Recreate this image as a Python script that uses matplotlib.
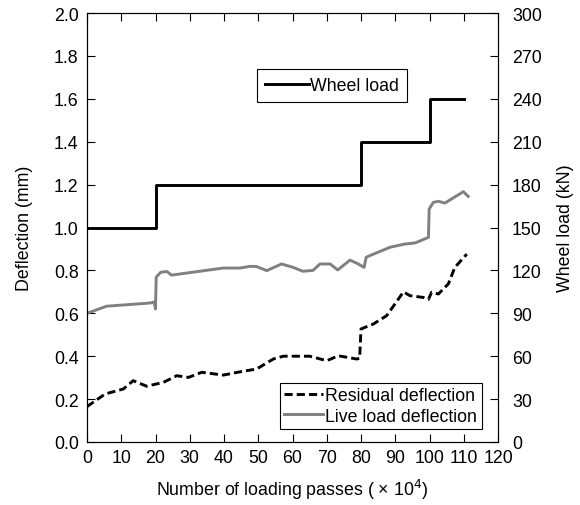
import matplotlib

matplotlib.use("Agg")

import matplotlib.pyplot as plt  # noqa: E402
from matplotlib.ticker import MultipleLocator, FormatStrFormatter  # noqa: E402

plt.rcParams.update({
    "font.family": ["Liberation Sans", "DejaVu Sans"],
    "font.size": 12.8,
    "xtick.direction": "in",
    "ytick.direction": "in",
    "axes.linewidth": 0.8,
})

# wheel load steps (kN), edges in 10^4 passes
load_x = [0, 20, 20, 80, 80, 100, 100, 110]
load_kn = [150, 150, 180, 180, 210, 210, 240, 240]

# live load deflection (mm)
live_x = [0, 5.7, 18.4, 19.6, 20.0, 20.2, 21.5, 23.3, 24.7, 32, 39.8, 44.7, 47.6, 49.5,
          52.5, 56.8, 60.2, 63, 66, 68, 71, 73.2, 76.8, 79.2, 80.9, 81.5, 82.6, 88.5,
          92.8, 95.8, 99.7, 99.9, 101.1, 102.6, 104.5, 109.9, 111.3]
live_mm = [0.60, 0.633, 0.648, 0.652, 0.62, 0.768, 0.791, 0.795, 0.778, 0.794, 0.811,
           0.811, 0.819, 0.818, 0.799, 0.83, 0.814, 0.796, 0.80, 0.83, 0.83, 0.802,
           0.848, 0.83, 0.814, 0.861, 0.869, 0.908, 0.923, 0.928, 0.954, 1.086, 1.117,
           1.122, 1.114, 1.167, 1.145]

# residual deflection (mm)
res_x = [0, 5.3, 10.6, 13.5, 17.4, 22.3, 26.2, 29.6, 33.5, 39.8, 45.6, 49.5, 54.4,
         57.3, 65, 70, 73.4, 78.7, 79.6, 80.0, 83.6, 87.5, 92.4, 94.3, 98.2, 99.7,
         100.6, 102.6, 105.5, 107.4, 110.9]
res_mm = [0.165, 0.224, 0.247, 0.286, 0.26, 0.278, 0.309, 0.301, 0.325, 0.312, 0.33,
          0.34, 0.387, 0.40, 0.40, 0.379, 0.402, 0.387, 0.39, 0.527, 0.55, 0.589,
          0.70, 0.682, 0.674, 0.665, 0.698, 0.69, 0.737, 0.814, 0.876]

fig = plt.figure(figsize=(5.8, 5.06), dpi=100)
ax = fig.add_axes([87 / 580, 63 / 506, 411 / 580, 429 / 506])
ax2 = ax.twinx()

res_line, = ax.plot(res_x, res_mm, color="black", lw=2.1, ls=(0, (2.8, 1.4)),
                    label="Residual deflection")
live_line, = ax.plot(live_x, live_mm, color="#808080", lw=2.1,
                     label="Live load deflection")
load_line, = ax2.plot(load_x, load_kn, color="black", lw=2.1, label="Wheel load")

ax.set_xlim(0, 120)
ax.set_ylim(0, 2.0)
ax2.set_ylim(0, 300)
ax.xaxis.set_major_locator(MultipleLocator(10))
ax.yaxis.set_major_locator(MultipleLocator(0.2))
ax2.yaxis.set_major_locator(MultipleLocator(30))
ax.yaxis.set_major_formatter(FormatStrFormatter("%.1f"))
ax.tick_params(axis="x", top=True, length=6, width=0.8, pad=5)
ax.tick_params(axis="y", length=6, width=0.8, pad=6)
ax2.tick_params(axis="y", length=6, width=0.8, pad=10)

ax.set_xlabel("Number of loading passes ( \u00d7 10$^4$)", labelpad=8)
ax.set_ylabel("Deflection (mm)", labelpad=15)
ax2.set_ylabel("Wheel load (kN)", labelpad=11)

leg1 = ax2.legend(handles=[load_line], loc="upper left", bbox_to_anchor=(0.413, 0.87),
                  fancybox=False, edgecolor="black", framealpha=1, handlelength=2.5,
                  handletextpad=0.05, borderpad=0.45, borderaxespad=0)
leg1.get_frame().set_linewidth(0.8)
leg2 = ax.legend(handles=[res_line, live_line], loc="lower right",
                 bbox_to_anchor=(0.96, 0.03), fancybox=False, edgecolor="black",
                 framealpha=1, handlelength=2.2, handletextpad=0.1, borderpad=0.25,
                 labelspacing=0.2, borderaxespad=0)
leg2.get_frame().set_linewidth(0.8)

fig.savefig("out.png", dpi=100)
